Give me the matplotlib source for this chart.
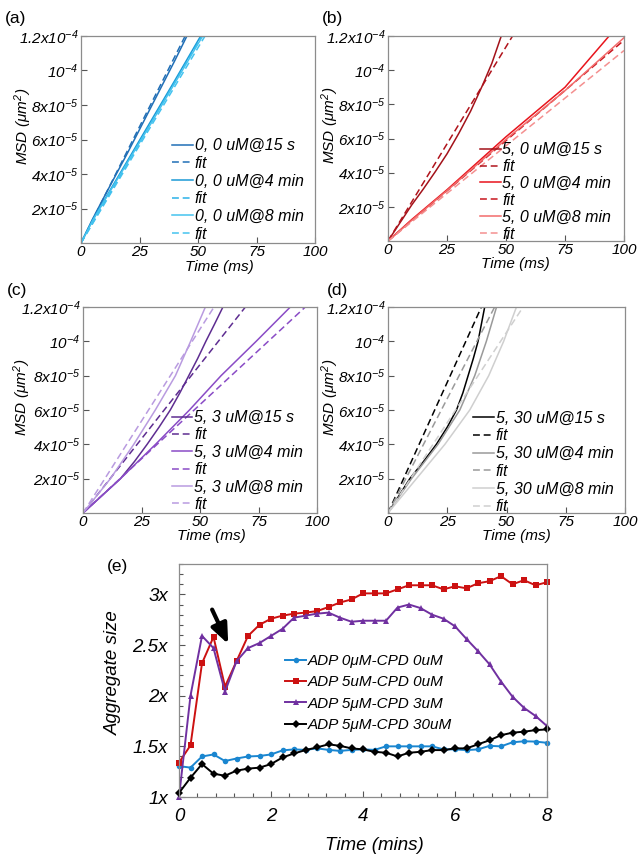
import matplotlib
matplotlib.use('Agg')
import matplotlib.pyplot as plt
from matplotlib.ticker import MultipleLocator

plt.rcParams['font.family'] = ['Liberation Sans', 'DejaVu Sans']
plt.rcParams['font.style'] = 'italic'
plt.rcParams['mathtext.fontset'] = 'custom'
plt.rcParams['mathtext.rm'] = 'Liberation Sans:italic'
plt.rcParams['mathtext.it'] = 'Liberation Sans:italic'
plt.rcParams['mathtext.sf'] = 'Liberation Sans:italic'

# ---------------- data ----------------
SCALE = 1e-5  # MSD values below are in units of 1e-5 um^2

# panel (a): ADP 0, CPD 0
a_t15 = [0, 5, 10, 20, 30, 40, 46]
a_m15 = [0, 1.4, 2.7, 5.25, 7.9, 10.55, 12.2]
a_ft15 = [0, 46]
a_fm15 = [0, 12.4]
a_t4 = [0, 5, 10, 20, 30, 40, 52]
a_m4 = [0, 1.35, 2.5, 4.8, 7.1, 9.4, 12.2]
a_ft4 = [0, 52]
a_fm4 = [0, 12.1]
a_t8 = [0, 5, 10, 20, 30, 40, 52]
a_m8 = [0, 1.3, 2.45, 4.7, 6.95, 9.25, 12.0]
a_ft8 = [0, 53]
a_fm8 = [0, 12.0]

# panel (b): ADP 5, CPD 0
b_t15 = [0, 5, 10, 15, 20, 25, 30, 35, 40, 44, 48]
b_m15 = [0, 1.05, 2.1, 3.05, 4.05, 5.1, 6.3, 7.6, 9.1, 10.4, 12.0]
b_ft15 = [0, 53]
b_fm15 = [0, 12.05]
b_t4 = [0, 10, 25, 50, 75, 94]
b_m4 = [0, 1.25, 3.0, 6.1, 9.0, 12.05]
b_ft4 = [0, 100]
b_fm4 = [0, 11.75]
b_t8 = [0, 10, 25, 50, 75, 100]
b_m8 = [0, 1.2, 2.95, 5.95, 8.8, 11.9]
b_ft8 = [0, 100]
b_fm8 = [0, 11.15]

# panel (c): ADP 5, CPD 3
c_t15 = [0, 8, 16, 22, 27.4, 32.5, 37.3, 41.4, 45.2, 49, 52.5, 56.2, 59.8]
c_m15 = [0, 1.0, 2, 3, 4, 5, 6, 7, 8, 9, 10, 11, 12]
c_ft15 = [0, 69.4]
c_fm15 = [0, 12]
c_t4 = [0, 16, 31, 45.5, 59, 74, 88.6]
c_m4 = [0, 2, 4, 6, 8, 10, 12]
c_ft4 = [0, 95]
c_fm4 = [0, 12]
c_t8 = [0, 11.7, 21.7, 30.9, 39.5, 46, 52.3]
c_m8 = [0, 2, 4, 6, 8, 10, 12]
c_ft8 = [0, 56]
c_fm8 = [0, 12]

# panel (d): ADP 5, CPD 30
d_t15 = [0, 9.2, 15, 20.4, 25, 28.9, 31.6, 33.8, 36, 38, 40.8]
d_m15 = [0, 2, 3.0, 4, 5, 6, 7, 8, 9, 10, 12]
d_ft15 = [0, 39.4]
d_fm15 = [0, 12]
d_t4 = [0, 9.9, 21.1, 30.3, 36.6, 41.5, 45.8]
d_m4 = [0, 2, 4, 6, 8, 10, 12]
d_ft4 = [0, 45]
d_fm4 = [0, 12]
d_t8 = [0, 12, 24, 34.5, 42.5, 48.8, 54.2]
d_m8 = [0, 2, 4, 6, 8, 10, 12]
d_ft8 = [0, 57]
d_fm8 = [0, 12]

msd_xticks = [0, 25, 50, 75, 100]
msd_xtick_labels = ['0', '25', '50', '75', '100']
msd_yticks = [2e-5, 4e-5, 6e-5, 8e-5, 1e-4, 1.2e-4]
msd_ytick_labels = [r'$2x10^{-5}$', r'$4x10^{-5}$', r'$6x10^{-5}$',
                    r'$8x10^{-5}$', r'$10^{-4}$', r'$1.2x10^{-4}$']

# panel (e): aggregate size vs time
e_time = [0, 0.25, 0.5, 0.75, 1, 1.25, 1.5, 1.75, 2, 2.25, 2.5, 2.75, 3, 3.25,
          3.5, 3.75, 4, 4.25, 4.5, 4.75, 5, 5.25, 5.5, 5.75, 6, 6.25, 6.5,
          6.75, 7, 7.25, 7.5, 7.75, 8]
e_adp0_cpd0 = [1.305, 1.29, 1.40, 1.42, 1.355, 1.38, 1.40, 1.405, 1.42, 1.46,
               1.47, 1.465, 1.48, 1.465, 1.455, 1.465, 1.47, 1.465, 1.50, 1.50,
               1.50, 1.50, 1.50, 1.47, 1.47, 1.463, 1.47, 1.505, 1.50, 1.54,
               1.55, 1.547, 1.535]
e_adp5_cpd0 = [1.34, 1.51, 2.32, 2.58, 2.09, 2.34, 2.59, 2.70, 2.76, 2.79,
               2.81, 2.82, 2.835, 2.875, 2.92, 2.95, 3.01, 3.01, 3.01, 3.05,
               3.09, 3.09, 3.09, 3.05, 3.08, 3.06, 3.11, 3.13, 3.18, 3.10,
               3.14, 3.09, 3.12]
e_adp5_cpd3 = [1.0, 2.0, 2.59, 2.47, 2.04, 2.34, 2.47, 2.52, 2.59, 2.66,
               2.77, 2.79, 2.81, 2.82, 2.77, 2.73, 2.74, 2.74, 2.74, 2.87,
               2.90, 2.865, 2.80, 2.76, 2.685, 2.56, 2.44, 2.31, 2.14, 1.99,
               1.88, 1.80, 1.70]
e_adp5_cpd30 = [1.04, 1.19, 1.325, 1.23, 1.21, 1.26, 1.28, 1.29, 1.325, 1.39,
                1.43, 1.463, 1.49, 1.52, 1.505, 1.48, 1.47, 1.446, 1.437, 1.40,
                1.437, 1.446, 1.463, 1.463, 1.48, 1.48, 1.52, 1.56, 1.61, 1.635,
                1.645, 1.66, 1.667]
e_labels = ['ADP 0\u03bcM-CPD 0uM', 'ADP 5uM-CPD 0uM',
            'ADP 5\u03bcM-CPD 3uM', 'ADP 5\u03bcM-CPD 30uM']
e_xticks = [0, 2, 4, 6, 8]
e_yticks = [1, 1.5, 2, 2.5, 3]
e_ytick_labels = ['1x', '1.5x', '2x', '2.5x', '3x']

# ---------------- figure ----------------
W, H = 641, 857
fig = plt.figure(figsize=(W / 100, H / 100), dpi=100)
fig.patch.set_facecolor('white')

SPINE = '#8c8c8c'


def rect(l, t, r, b):
    return [l / W, 1 - b / H, (r - l) / W, (b - t) / H]


def style_spines(ax):
    for s in ax.spines.values():
        s.set_color(SPINE)
        s.set_linewidth(0.9)


def msd_panel(box, series, leg_xy, leg_spacing, xl_xy, yl_xy):
    ax = fig.add_axes(rect(*box))
    handles = []
    for t, m, color, dashed, label in series:
        ls = (0, (4.5, 2.5)) if dashed else '-'
        h, = ax.plot(t, [v * SCALE for v in m], color=color, ls=ls, lw=1.1,
                     label=label)
        handles.append(h)
    ax.set_xlim(0, 100)
    ax.set_ylim(0, 1.2e-4)
    ax.set_xticks(msd_xticks, msd_xtick_labels)
    ax.set_yticks(msd_yticks, msd_ytick_labels)
    ax.tick_params(direction='in', length=4, width=0.8, color='#555555',
                   labelsize=11)
    ax.tick_params(axis='x', pad=1.5)
    ax.tick_params(axis='y', pad=2)
    style_spines(ax)
    ax.set_xlabel('Time (ms)', fontsize=11)
    ax.xaxis.set_label_coords(*xl_xy)
    ax.set_ylabel(r'$MSD\ (\mu m^2)$', fontsize=11)
    ax.yaxis.set_label_coords(*yl_xy)
    ax.legend(handles=handles, loc='center left', bbox_to_anchor=leg_xy,
              frameon=False, fontsize=11.5, handlelength=1.3,
              handletextpad=0.1, labelspacing=leg_spacing, borderpad=0,
              borderaxespad=0)
    return ax


# (a)
ca = ['#216fb6', '#1b9ad6', '#45c3ef']
msd_panel((81, 36, 315, 243), [
    (a_t15, a_m15, ca[0], False, '0, 0 uM@15 s'),
    (a_ft15, a_fm15, ca[0], True, 'fit'),
    (a_t4, a_m4, ca[1], False, '0, 0 uM@4 min'),
    (a_ft4, a_fm4, '#2bb2e8', True, 'fit'),
    (a_t8, a_m8, ca[2], False, '0, 0 uM@8 min'),
    (a_ft8, a_fm8, ca[2], True, 'fit'),
], (0.39, 0.256), 0.17, (0.59, -0.082), (-0.20, 0.565))

# (b)
cb = ['#a3121a', '#e8141c', '#f26b6b']
msd_panel((388, 36, 624, 241), [
    (b_t15, b_m15, cb[0], False, '5, 0 uM@15 s'),
    (b_ft15, b_fm15, '#b0141c', True, 'fit'),
    (b_t4, b_m4, cb[1], False, '5, 0 uM@4 min'),
    (b_ft4, b_fm4, '#c8161e', True, 'fit'),
    (b_t8, b_m8, cb[2], False, '5, 0 uM@8 min'),
    (b_ft8, b_fm8, '#f49090', True, 'fit'),
], (0.39, 0.239), 0.12, (0.54, -0.078), (-0.20, 0.566))

# (c)
cc = ['#5e2d91', '#8a4cc6', '#b99be0']
msd_panel((83, 307, 317, 513), [
    (c_t15, c_m15, cc[0], False, '5, 3 uM@15 s'),
    (c_ft15, c_fm15, cc[0], True, 'fit'),
    (c_t4, c_m4, cc[1], False, '5, 3 uM@4 min'),
    (c_ft4, c_fm4, cc[1], True, 'fit'),
    (c_t8, c_m8, cc[2], False, '5, 3 uM@8 min'),
    (c_ft8, c_fm8, cc[2], True, 'fit'),
], (0.379, 0.252), 0.15, (0.55, -0.08), (-0.215, 0.563))

# (d)
cd = ['#000000', '#9a9a9a', '#cfcfcf']
msd_panel((388, 307, 625, 513), [
    (d_t15, d_m15, cd[0], False, '5, 30 uM@15 s'),
    (d_ft15, d_fm15, cd[0], True, 'fit'),
    (d_t4, d_m4, cd[1], False, '5, 30 uM@4 min'),
    (d_ft4, d_fm4, cd[1], True, 'fit'),
    (d_t8, d_m8, cd[2], False, '5, 30 uM@8 min'),
    (d_ft8, d_fm8, cd[2], True, 'fit'),
], (0.36, 0.245), 0.17, (0.54, -0.078), (-0.20, 0.563))

# (e)
ax = fig.add_axes(rect(179, 564, 547, 797))
e_series = [
    (e_adp0_cpd0, '#1a86d0', 'o', 4.0),
    (e_adp5_cpd0, '#cc1111', 's', 4.6),
    (e_adp5_cpd3, '#7030a0', '^', 5.0),
    (e_adp5_cpd30, '#000000', 'D', 4.0),
]
for (vals, col, mk, ms), lab in zip(e_series, e_labels):
    ax.plot(e_time, vals, color=col, marker=mk, ms=ms, lw=1.4,
            markeredgewidth=0, label=lab, clip_on=False)
ax.set_xlim(0, 8)
ax.set_ylim(1, 3.3)
ax.set_xticks(e_xticks, [str(v) for v in e_xticks])
ax.set_yticks(e_yticks, e_ytick_labels)
ax.xaxis.set_minor_locator(MultipleLocator(0.4))
ax.yaxis.set_minor_locator(MultipleLocator(0.1))
ax.tick_params(which='both', direction='in', color='#555555', width=0.8,
               labelsize=13.5, pad=8)
ax.tick_params(which='major', length=4)
ax.tick_params(which='minor', length=3)
style_spines(ax)
ax.set_xlabel('Time (mins)', fontsize=13.5)
ax.xaxis.set_label_coords(0.53, -0.17)
ax.set_ylabel('Aggregate size', fontsize=13.5)
ax.yaxis.set_label_coords(-0.155, 0.534)
ax.legend(loc='center left', bbox_to_anchor=(0.288, 0.446), frameon=False,
          fontsize=11, handlelength=1.4, handletextpad=0.1, labelspacing=0.49,
          borderpad=0, borderaxespad=0)
ax.annotate('', xy=(1.07, 2.51), xytext=(0.72, 2.85),
            arrowprops=dict(arrowstyle='-|>,head_width=0.5,head_length=1.2',
                            color='black', lw=3.0, shrinkA=0, shrinkB=0))

# panel tags
for txt, x, y in [('(a)', 5, 19), ('(b)', 322, 18), ('(c)', 7, 290),
                  ('(d)', 327, 291), ('(e)', 107, 567)]:
    fig.text(x / W, 1 - y / H, txt, fontsize=12.5, style='normal',
             ha='left', va='center')

fig.savefig('out.png', dpi=100, facecolor='white')
